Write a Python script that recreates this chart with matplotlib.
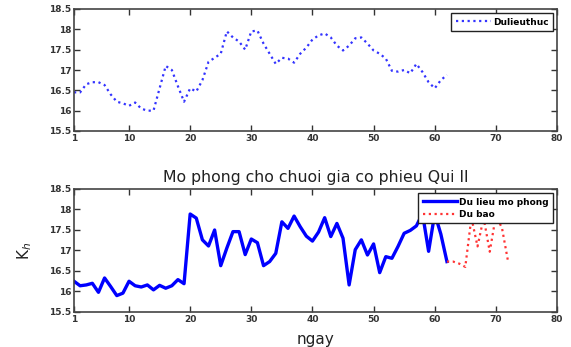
import matplotlib
matplotlib.use("Agg")
import matplotlib.pyplot as plt
import numpy as np

# Data
actual_x = list(range(1, 63))
actual_y = [16.45, 16.45, 16.65, 16.70, 16.70, 16.63, 16.40, 16.22, 16.18, 16.12,
            16.20, 16.05, 16.00, 16.00, 16.55, 17.10, 17.00, 16.60, 16.22, 16.55,
            16.47, 16.75, 17.20, 17.30, 17.40, 17.95, 17.80, 17.70, 17.50, 17.95,
            17.97, 17.65, 17.40, 17.15, 17.30, 17.28, 17.18, 17.40, 17.55, 17.75,
            17.85, 17.90, 17.80, 17.60, 17.48, 17.60, 17.78, 17.80, 17.65, 17.48,
            17.40, 17.28, 16.98, 16.96, 17.00, 16.92, 17.15, 16.95, 16.70, 16.55,
            16.75, 16.88]

sim_x = list(range(1, 63))
sim_y = [16.25, 16.14, 16.16, 16.20, 15.98, 16.33, 16.12, 15.90, 15.96, 16.25,
         16.14, 16.11, 16.16, 16.04, 16.15, 16.08, 16.14, 16.29, 16.19, 17.89,
         17.79, 17.26, 17.11, 17.50, 16.63, 17.06, 17.46, 17.46, 16.90, 17.28,
         17.19, 16.63, 16.73, 16.93, 17.70, 17.54, 17.84, 17.58, 17.35, 17.23,
         17.45, 17.80, 17.34, 17.66, 17.30, 16.16, 17.02, 17.26, 16.89, 17.16,
         16.46, 16.85, 16.81, 17.10, 17.42, 17.49, 17.60, 17.90, 16.98, 17.90,
         17.40, 16.73]

fc_x = list(range(62, 73))
fc_y = [16.73, 16.73, 16.68, 16.60, 17.80, 17.10, 17.80, 16.97, 17.85, 17.55, 16.73]

xticks = [1, 10, 20, 30, 40, 50, 60, 70, 80]
yticks = [15.5, 16, 16.5, 17, 17.5, 18, 18.5]
ytick_labels = ["15.5", "16", "16.5", "17", "17.5", "18", "18.5"]

W, H = 571, 347
fig = plt.figure(figsize=(W / 100, H / 100), dpi=100)

def box(l, t, r, b):
    return [l / W, 1 - b / H, (r - l) / W, (b - t) / H]

ax1 = fig.add_axes(box(74, 9, 557, 131))
ax2 = fig.add_axes(box(74, 189, 557, 312))

tick_col = "#333333"
for ax in (ax1, ax2):
    ax.set_xlim(1, 80)
    ax.set_ylim(15.5, 18.5)
    ax.set_xticks(xticks)
    ax.set_xticklabels([str(v) for v in xticks])
    ax.set_yticks(yticks)
    ax.set_yticklabels(ytick_labels)
    ax.tick_params(direction="in", top=True, right=True, length=4, width=1,
                   labelsize=6.5, colors=tick_col, pad=2)
    for lab in ax.get_xticklabels() + ax.get_yticklabels():
        lab.set_fontweight("bold")
    for s in ax.spines.values():
        s.set_color("#444444")
        s.set_linewidth(1.2)

ax1.plot(actual_x, actual_y, linestyle=(0, (1, 1.6)), color="#3333ff", lw=1.6,
         label="Dulieuthuc")
leg1 = ax1.legend(loc="upper right", fontsize=6.5, fancybox=False, framealpha=1,
                  edgecolor="#222222", borderaxespad=0.45, handlelength=3.9,
                  borderpad=0.5, handletextpad=0.2)
leg1.get_frame().set_linewidth(1.0)
for t in leg1.get_texts():
    t.set_fontweight("bold")

ax2.plot(sim_x, sim_y, "-", color="#0000ff", lw=2.4, label="Du lieu mo phong")
ax2.plot(fc_x, fc_y, linestyle=(0, (1, 1.6)), color="#ff3333", lw=1.6, label="Du bao")
leg2 = ax2.legend(loc="upper right", fontsize=6.5, fancybox=False, framealpha=1,
                  edgecolor="#222222", borderaxespad=0.45, handlelength=3.8,
                  borderpad=0.5, handletextpad=0.2, labelspacing=0.35)
leg2.get_frame().set_linewidth(1.0)
for t in leg2.get_texts():
    t.set_fontweight("bold")

ax2.set_title("Mo phong cho chuoi gia co phieu Qui II", fontsize=11.3,
              color="#222222", pad=5)
ax2.set_xlabel("ngay", fontsize=11, color="#222222", labelpad=6)
ax2.set_ylabel("K$_h$", fontsize=11, color="#222222", labelpad=11)

fig.savefig("out.png", dpi=100)
